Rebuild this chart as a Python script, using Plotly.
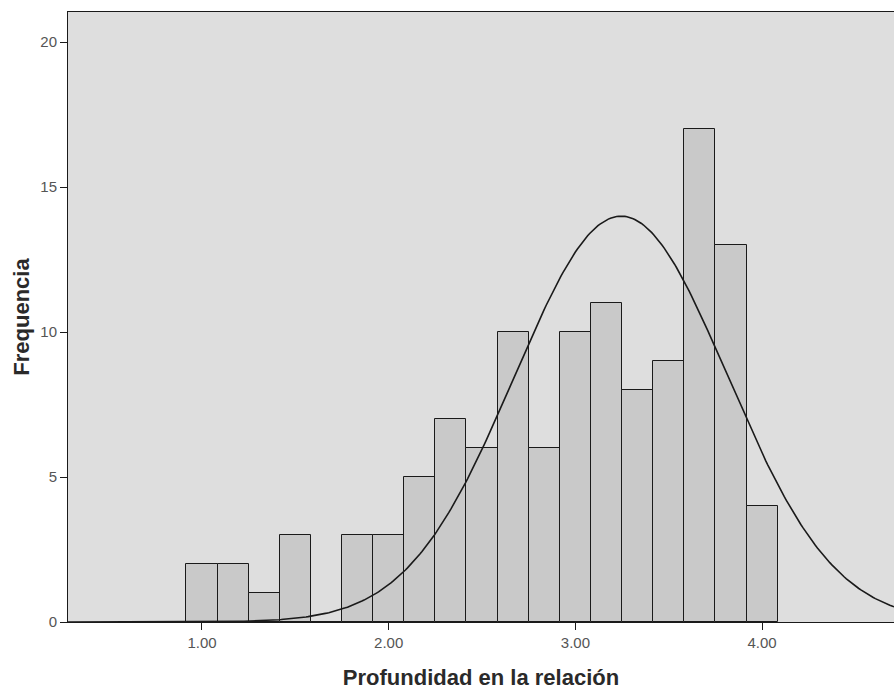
import numpy as np
import plotly.graph_objects as go

# Histogram bins (centers) and counts
bin_centers = [1.0000, 1.1667, 1.3333, 1.5000, 1.6667, 1.8333, 2.0000, 2.1667, 2.3333,
               2.5000, 2.6667, 2.8333, 3.0000, 3.1667, 3.3333, 3.5000, 3.6667, 3.8333, 4.0000]
counts = [2, 2, 1, 3, 0, 3, 3, 5, 7, 6, 10, 6, 10, 11, 8, 9, 17, 13, 4]
bin_width = 1 / 6

# Normal curve parameters
curve_mean = 3.245
curve_sd = 0.57
n_total = 120

x_tick_vals = [1, 2, 3, 4]
x_tick_text = ["1.00", "2.00", "3.00", "4.00"]
y_tick_vals = [0, 5, 10, 15, 20]

x_range = [0.2823, 4.7065]
y_range = [0, 21.04]

xc = np.linspace(x_range[0], x_range[1], 400)
yc = n_total * bin_width / (curve_sd * np.sqrt(2 * np.pi)) * np.exp(-0.5 * ((xc - curve_mean) / curve_sd) ** 2)

fig = go.Figure()
fig.add_trace(go.Bar(
    x=bin_centers, y=counts, width=bin_width,
    marker=dict(color="#c9c9c9", line=dict(color="#1a1a1a", width=1)),
    showlegend=False, hoverinfo="x+y",
))
fig.add_trace(go.Scatter(
    x=xc, y=yc, mode="lines",
    line=dict(color="#1a1a1a", width=1.6),
    showlegend=False, hoverinfo="skip",
))

font_family = "Liberation Sans, Arial, sans-serif"
fig.update_layout(
    width=894, height=691,
    margin=dict(l=68, r=0, t=12, b=69),
    paper_bgcolor="#ffffff",
    plot_bgcolor="#dedede",
    bargap=0,
    font=dict(family=font_family, color="#333333", size=12),
    xaxis=dict(
        range=x_range, tickvals=x_tick_vals, ticktext=x_tick_text,
        showgrid=False, zeroline=False,
        showline=True, linecolor="#1a1a1a", linewidth=1, mirror=True,
        ticks="outside", ticklen=7, tickcolor="#1a1a1a",
        tickfont=dict(size=15, color="#555555"),
        title=dict(text="<b>Profundidad en la relación</b>", font=dict(size=22, color="#2a2a2a"), standoff=19),
    ),
    yaxis=dict(
        range=y_range, tickvals=y_tick_vals,
        showgrid=False, zeroline=False,
        showline=True, linecolor="#1a1a1a", linewidth=1,
        ticks="outside", ticklen=7, tickcolor="#1a1a1a",
        tickfont=dict(size=15, color="#555555"),
        title=dict(text="<b>Frequencia</b>", font=dict(size=22, color="#2a2a2a"), standoff=4),
    ),
)

fig.write_html(
    "out.html",
    config={"displayModeBar": False},
    post_script="document.body.style.margin='0';document.body.style.overflow='hidden';",
)
